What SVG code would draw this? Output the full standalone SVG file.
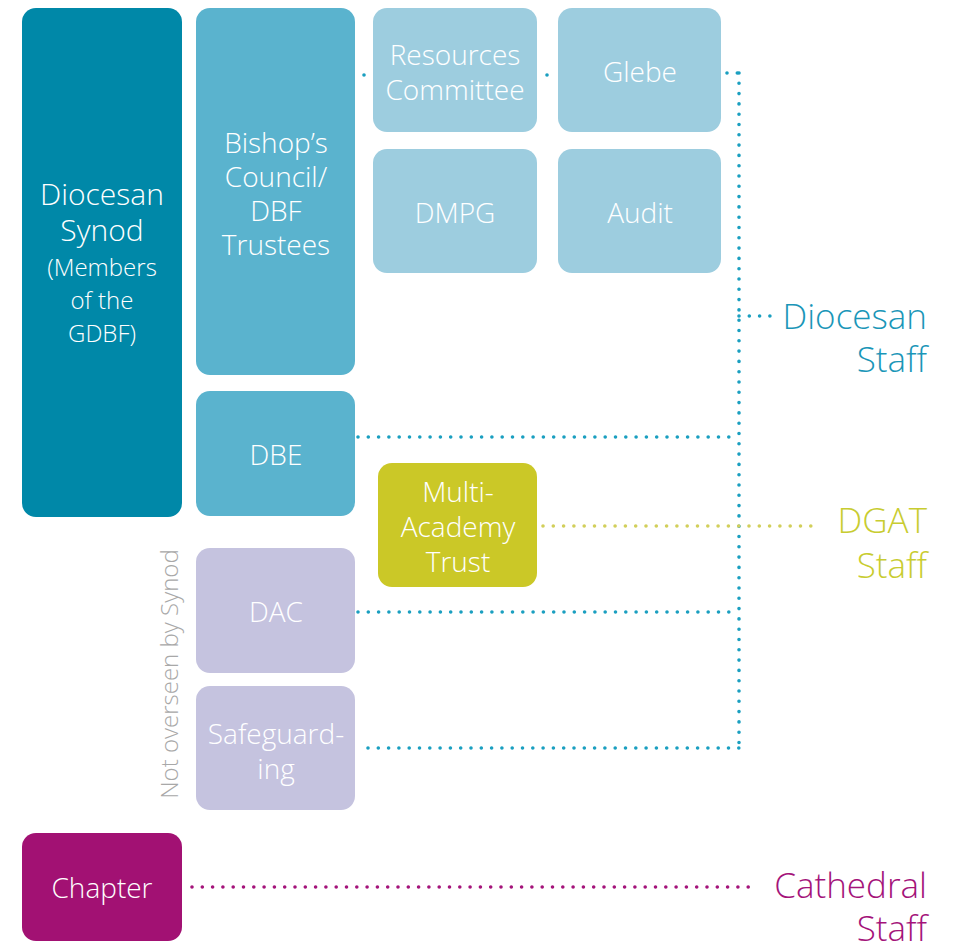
<svg xmlns="http://www.w3.org/2000/svg" width="953" height="943" viewBox="0 0 953 943">
<style>
text{font-family:"Open Sans","Liberation Sans",sans-serif;font-weight:300}
.w{fill:#fff;text-anchor:middle}
.b{font-size:28px}
.s{font-size:24px}
.dot{fill:none;stroke-width:3.6;stroke-linecap:round;stroke-dasharray:0 10.3}
.teal{stroke:#1a9fc0}
.olive{stroke:#d2cf5a}
.mag{stroke:#a4137a}
.lbl{font-size:35px;text-anchor:end}
</style>
<rect width="953" height="943" fill="#fff"/>
<g id="connectors">
<path class="dot teal" d="M739 73 V748"/>
<path class="dot teal" d="M727 73 H739"/>
<path class="dot teal" d="M364 75 H366"/>
<path class="dot teal" d="M547 75 H550"/>
<path class="dot teal" d="M739 316 H773"/>
<path class="dot teal" d="M358 437 H739"/>
<path class="dot teal" d="M358 612 H739"/>
<path class="dot teal" d="M368 748 H739"/>
<path class="dot olive" d="M543 526 H812"/>
<path class="dot mag" d="M192 887 H758"/>
</g>
<g id="synod"><rect x="22" y="8" width="160" height="509" rx="14" fill="#0088a8"/>
<text class="w" font-size="30" x="102" y="205">Diocesan</text><text class="w" font-size="30" x="102" y="241">Synod</text>
<text class="w s" x="102" y="276">(Members</text><text class="w s" x="102" y="309">of the</text><text class="w s" x="102" y="342">GDBF)</text></g>
<g id="bishops"><rect x="196" y="8" width="159" height="367" rx="14" fill="#5ab3ce"/>
<text class="w b" x="276" y="153">Bishop’s</text><text class="w b" x="276" y="187">Council/</text><text class="w b" x="276" y="221">DBF</text><text class="w b" x="276" y="255">Trustees</text></g>
<g id="resources"><rect x="373" y="8" width="164" height="124" rx="14" fill="#9dcddf"/>
<text class="w b" x="455" y="65">Resources</text><text class="w b" x="455" y="100">Committee</text></g>
<g id="glebe"><rect x="558" y="8" width="163" height="124" rx="14" fill="#9dcddf"/>
<text class="w b" x="640" y="82">Glebe</text></g>
<g id="dmpg"><rect x="373" y="149" width="164" height="124" rx="14" fill="#9dcddf"/>
<text class="w b" x="455" y="223">DMPG</text></g>
<g id="audit"><rect x="558" y="149" width="163" height="124" rx="14" fill="#9dcddf"/>
<text class="w b" x="640" y="223">Audit</text></g>
<g id="dbe"><rect x="196" y="391" width="159" height="125" rx="14" fill="#5ab3ce"/>
<text class="w b" x="276" y="465">DBE</text></g>
<g id="mat"><rect x="378" y="463" width="159" height="124" rx="14" fill="#cbc827"/>
<text class="w b" x="458" y="502">Multi-</text><text class="w b" x="458" y="537">Academy</text><text class="w b" x="458" y="572">Trust</text></g>
<g id="dac"><rect x="196" y="548" width="159" height="125" rx="14" fill="#c5c3df"/>
<text class="w b" x="276" y="622">DAC</text></g>
<g id="safeguarding"><rect x="196" y="686" width="159" height="124" rx="14" fill="#c5c3df"/>
<text class="w b" x="276" y="744">Safeguard-</text><text class="w b" x="276" y="779">ing</text></g>
<g id="chapter"><rect x="22" y="833" width="160" height="108" rx="14" fill="#a21173"/>
<text class="w b" x="102" y="898">Chapter</text></g>
<text x="178" y="674" transform="rotate(-90 178 674)" font-size="24" fill="#a8a8a8" text-anchor="middle">Not overseen by Synod</text>
<g id="diocesan-staff" fill="#1a96b8"><text class="lbl" x="927" y="329">Diocesan</text><text class="lbl" x="927" y="372">Staff</text></g>
<g id="dgat-staff" fill="#c8cc30"><text class="lbl" x="927" y="533">DGAT</text><text class="lbl" x="927" y="578">Staff</text></g>
<g id="cathedral-staff" fill="#a4137a"><text class="lbl" x="927" y="898">Cathedral</text><text class="lbl" x="927" y="941">Staff</text></g>
</svg>
